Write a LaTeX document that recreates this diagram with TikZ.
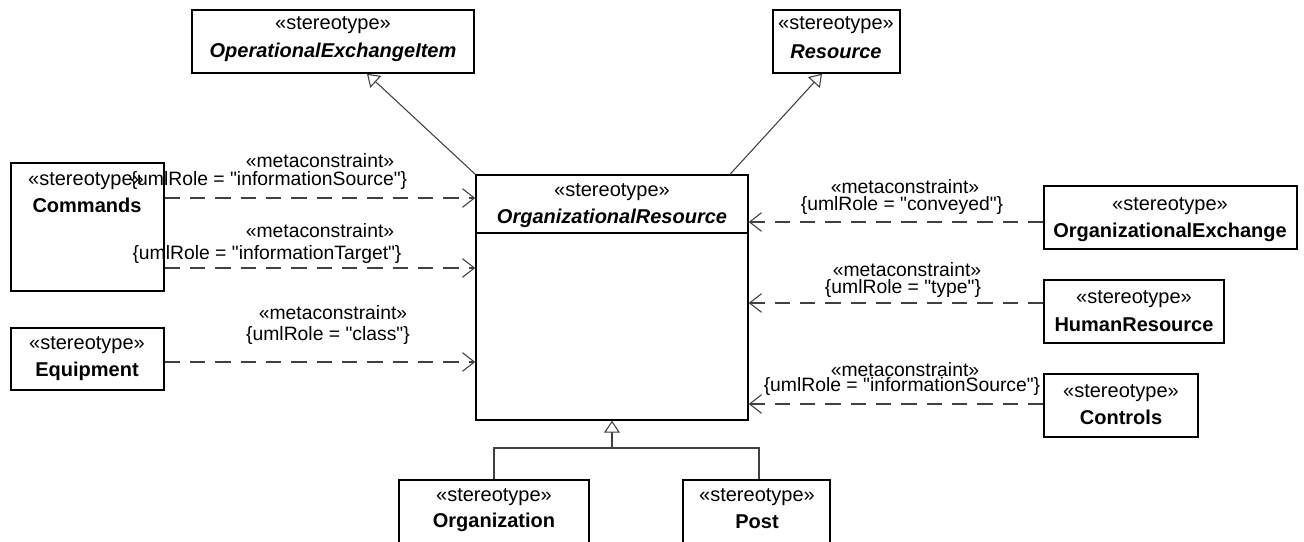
\documentclass[tikz,border=0pt]{standalone}
\usepackage{fontspec}
\setmainfont{Liberation Sans}[Ligatures=TeXOff]
\usetikzlibrary{arrows.meta,fit}
\begin{document}
\begin{tikzpicture}[x=0.75pt,y=-0.75pt,
  box/.style={draw=black, line width=1.1pt, fill=white, inner sep=0pt, rectangle},
  txt/.style={inner sep=0pt, font=\fontsize{15}{17}\selectfont},
  lbl/.style={inner sep=0pt, font=\fontsize{14.5}{16}\selectfont},
  dep/.style={draw=black!75, line width=0.8pt, dash pattern=on 11.5pt off 7.5pt, -{Straight Barb[length=9pt,width=14pt,line width=0.8pt]}},
  gen/.style={draw=black!75, line width=0.8pt, -{Triangle[open,length=9pt,width=12pt,fill=white,line width=0.8pt]}},
  genl/.style={draw=black!75, line width=0.8pt}]
\clip (0,0) rectangle (1304,542);
\fill[white] (0,0) rectangle (1304,542);

% boxes
\node[box, fit={(192,10) (474,73)}] (oei) {};
\node[box, fit={(773,10) (900,73)}] (res) {};
\node[box, fit={(11,163) (164,291)}] (cmd) {};
\node[box, fit={(11,328) (164,390)}] (eqp) {};
\node[box, fit={(476,175) (748,420)}] (org) {};
\draw[line width=1.1pt] (org.west |- 0,233) -- (org.east |- 0,233);
\node[box, fit={(1044,186) (1297,249)}] (ox) {};
\node[box, fit={(1044,280) (1224,343)}] (hr) {};
\node[box, fit={(1044,374) (1198,437)}] (ctl) {};
\node[box, fit={(399,480) (589,570)}] (orgn) {};
\node[box, fit={(683,480) (830,570)}] (post) {};

% box texts
\node[txt] (t1) at (333,25) {«stereotype»};
\node[txt] (t2) at (333,52) {\textbf{\textit{OperationalExchangeItem}}};
\node[txt] (t3) at (836,25) {«stereotype»};
\node[txt] (t4) at (836,52) {\textbf{\textit{Resource}}};
\node[txt] (t5) at (86,181) {«stereotype»};
\node[txt] (t6) at (87,205) {\textbf{Commands}};
\node[txt] (t7) at (87,345) {«stereotype»};
\node[txt] (t8) at (87,371) {\textbf{Equipment}};
\node[txt] (t9) at (612,192) {«stereotype»};
\node[txt] (t10) at (612,218) {\textbf{\textit{OrganizationalResource}}};
\node[txt] (t11) at (1170,206) {«stereotype»};
\node[txt] (t12) at (1170,232) {\textbf{OrganizationalExchange}};
\node[txt] (t13) at (1134,299) {«stereotype»};
\node[txt] (t14) at (1134,325) {\textbf{HumanResource}};
\node[txt] (t15) at (1121,393) {«stereotype»};
\node[txt] (t16) at (1121,417) {\textbf{Controls}};
\node[txt] (t17) at (494,497) {«stereotype»};
\node[txt] (t18) at (494,522) {\textbf{Organization}};
\node[txt] (t19) at (757,497) {«stereotype»};
\node[txt] (t20) at (757,522) {\textbf{Post}};

% helper coordinates
\coordinate (y1) at (0,198);
\coordinate (y2) at (0,268);
\coordinate (y3) at (0,362);
\coordinate (y4) at (0,222);
\coordinate (y5) at (0,303);
\coordinate (y6) at (0,404);
\coordinate (xa) at (367,0);
\coordinate (xb) at (822,0);
\coordinate (xc) at (612,0);
\coordinate (xd) at (494,0);
\coordinate (xe) at (759,0);
\coordinate (yj) at (0,448);

% dependencies
\draw[dep] (cmd.east |- y1) -- (org.west |- y1);
\draw[dep] (cmd.east |- y2) -- (org.west |- y2);
\draw[dep] (eqp.east |- y3) -- (org.west |- y3);
\draw[dep] (ox.west |- y4) -- (org.east |- y4);
\draw[dep] (hr.west |- y5) -- (org.east |- y5);
\draw[dep] (ctl.west |- y6) -- (org.east |- y6);

% labels
\node[lbl] (l1a) at (320,161) {«metaconstraint»};
\node[lbl] (l1b) at (269,181) {\{umlRole = "informationSource"\}};
\node[lbl] (l2a) at (320,231) {«metaconstraint»};
\node[lbl] (l2b) at (267,255) {\{umlRole = "informationTarget"\}};
\node[lbl] (l3a) at (333,313) {«metaconstraint»};
\node[lbl] (l3b) at (328,335) {\{umlRole = "class"\}};
\node[lbl] (l4a) at (905,187) {«metaconstraint»};
\node[lbl] (l4b) at (902,206) {\{umlRole = "conveyed"\}};
\node[lbl] (l5a) at (907,270) {«metaconstraint»};
\node[lbl] (l5b) at (903,289) {\{umlRole = "type"\}};
\node[lbl] (l6a) at (905,370) {«metaconstraint»};
\node[lbl] (l6b) at (902,386) {\{umlRole = "informationSource"\}};

% generalizations
\draw[gen] (org.north west) -- (oei.south -| xa);
\draw[gen] ([xshift=-14pt]org.north east) -- (res.south -| xb);
\draw[genl] (orgn.north -| xd) -- (xd |- yj) -- (xe |- yj) -- (post.north -| xe);
\draw[gen] (xc |- yj) -- (org.south -| xc);
\end{tikzpicture}
\end{document}
